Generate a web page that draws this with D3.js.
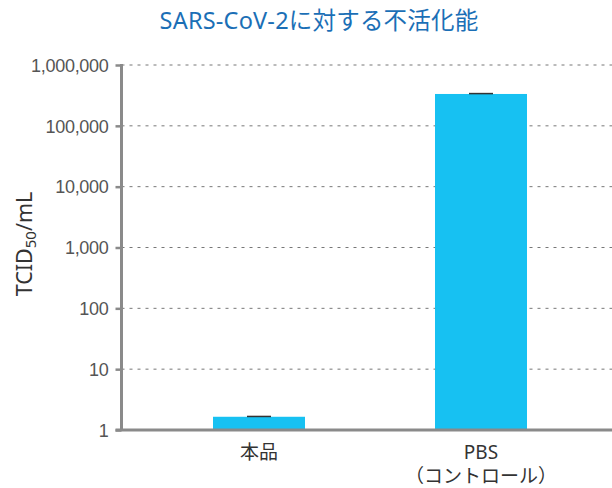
<!DOCTYPE html>
<html>
<head>
<meta charset="utf-8">
<script src="https://cdn.jsdelivr.net/npm/d3@7"></script>
<style>
  body { margin: 0; background: #fff; }
  svg { display: block; font-family: "Noto Sans", "Noto Sans CJK JP", sans-serif; }
</style>
</head>
<body>
<svg width="612" height="488"></svg>
<script>
// データ
const categories = ["本品", "PBS"];
const subLabels = ["", "（コントロール）"];
const values = [1.65, 334000];
const errors = [0.02, 5000];
const tickValues = [1, 10, 100, 1000, 10000, 100000, 1000000];

const svg = d3.select("svg");
const width = 612;

const axisX = 121.5;
const yTop = 65;
const yBottom = 430;

const y = d3.scaleLog()
    .domain([1, 1000000])
    .range([yBottom, yTop]);

const x = d3.scaleBand()
    .domain(categories)
    .range([148, 592])
    .paddingInner(0.5856)
    .paddingOuter(0.2928);

// タイトル
svg.append("text")
    .attr("x", 319)
    .attr("y", 29)
    .attr("text-anchor", "middle")
    .attr("fill", "#1b6fb6")
    .style("font-size", "23.5px")
    .style("letter-spacing", "0.2px")
    .text("SARS-CoV-2に対する不活化能");

// グリッド線（点線）
svg.append("g")
    .selectAll("line")
    .data(tickValues.filter(d => d > 1))
    .join("line")
    .attr("x1", axisX)
    .attr("x2", width)
    .attr("y1", d => y(d))
    .attr("y2", d => y(d))
    .attr("stroke", "#777")
    .attr("stroke-width", 1)
    .attr("stroke-dasharray", "3,5");

// 棒
svg.append("g")
    .selectAll("rect")
    .data(categories)
    .join("rect")
    .attr("x", d => x(d))
    .attr("width", x.bandwidth())
    .attr("y", (d, i) => y(values[i]))
    .attr("height", (d, i) => yBottom - y(values[i]))
    .attr("fill", "#17c1f2");

// エラーバー（上側のキャップのみ見える）
svg.append("g")
    .selectAll("line")
    .data(categories)
    .join("line")
    .attr("x1", d => x(d) + x.bandwidth() / 2 - 12)
    .attr("x2", d => x(d) + x.bandwidth() / 2 + 12)
    .attr("y1", (d, i) => y(values[i] + errors[i]))
    .attr("y2", (d, i) => y(values[i] + errors[i]))
    .attr("stroke", "#333")
    .attr("stroke-width", 1.5);

// Y軸
const yAxis = svg.append("g")
    .attr("transform", `translate(${axisX},0)`)
    .call(d3.axisLeft(y)
        .tickValues(tickValues)
        .tickFormat(d3.format(","))
        .tickSize(6)
        .tickPadding(7));

yAxis.select(".domain").remove();
yAxis.selectAll(".tick line")
    .attr("stroke", "#8a8a8a")
    .attr("stroke-width", 2.5);
yAxis.selectAll(".tick text")
    .attr("fill", "#555")
    .style("font-size", "18px")
    .style("letter-spacing", "-0.3px")
    .attr("dy", "0.35em");

yAxis.append("line")
    .attr("x1", 0).attr("x2", 0)
    .attr("y1", yTop - 1).attr("y2", yBottom)
    .attr("stroke", "#8a8a8a")
    .attr("stroke-width", 3);

// X軸
svg.append("line")
    .attr("x1", axisX - 6)
    .attr("x2", width)
    .attr("y1", yBottom)
    .attr("y2", yBottom)
    .attr("stroke", "#8a8a8a")
    .attr("stroke-width", 3);

const xLabels = svg.append("g")
    .selectAll("text")
    .data(categories)
    .join("text")
    .attr("x", d => x(d) + x.bandwidth() / 2)
    .attr("y", 459)
    .attr("text-anchor", "middle")
    .attr("fill", "#333")
    .style("font-size", "19px");

xLabels.append("tspan").text(d => d);
xLabels.append("tspan")
    .attr("x", d => x(d) + x.bandwidth() / 2)
    .attr("dy", 24)
    .text((d, i) => subLabels[i]);

// Y軸ラベル
const yLabel = svg.append("text")
    .attr("transform", "translate(32,244) rotate(-90)")
    .attr("text-anchor", "middle")
    .attr("fill", "#333")
    .style("font-size", "21.5px");
yLabel.append("tspan").text("TCID");
yLabel.append("tspan").attr("dy", 4).style("font-size", "15px").text("50");
yLabel.append("tspan").attr("dy", -4).text("/mL");
</script>
</body>
</html>
